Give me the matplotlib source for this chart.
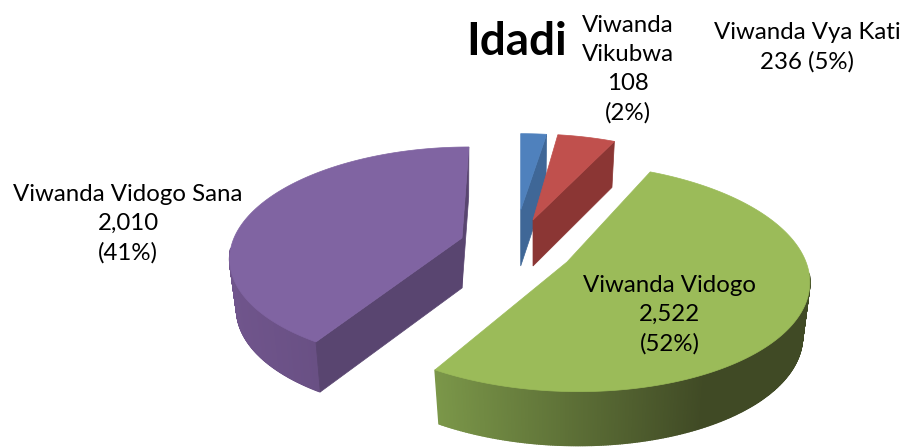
import numpy as np
import matplotlib
matplotlib.use("Agg")
import matplotlib.pyplot as plt
from matplotlib.colors import to_rgb

# data
names = ["Viwanda\nVikubwa", "Viwanda Vya Kati", "Viwanda Vidogo", "Viwanda Vidogo Sana"]
values = [108, 236, 2522, 2010]
percents = [2, 5, 52, 41]

# look of each slice
top_colors = ["#4f81bd", "#c0504d", "#9bbb59", "#8064a2"]
cut_colors = ["#3f6797", "#8b3634", "#7b9749", "#594570"]
wall_left = ["#3f6797", "#8b3634", "#7b9749", "#70558c"]
wall_right = ["#3f6797", "#8b3634", "#404a25", "#624b7c"]

# apex x, apex y, A, D, B, k, depth (exploded slices, picture pixels)
shapes = [
    (520.7, 210, 213, 0, 87, 0.14, 56),
    (533, 220, 218, -2, 98, 0.14, 46),
    (567, 262, 239, -10, 112, 0.136, 54),
    (462, 238, 228, 8, 105.5, 0.159, 50),
]
cuts = [(False, True), (False, True), (False, False), (True, True)]


def project(shape, ang):
    ax0, ay0, A, D, B, k, depth = shape
    u = np.sin(ang)
    v = np.cos(ang)
    w = 1 + k * v
    return (A * u + D * v) / w, -B * v / w


def main():
    fig = plt.figure(figsize=(9.04, 4.47), dpi=100)
    ax = fig.add_axes([0, 0, 1, 1])
    ax.set_xlim(0, 904)
    ax.set_ylim(447, 0)
    ax.axis("off")

    edges = np.cumsum([0] + values) / sum(values) * 2 * np.pi

    for i in range(4):
        s = shapes[i]
        ax0, ay0, depth = s[0], s[1], s[6]
        angs = np.linspace(edges[i], edges[i + 1], 500)
        dx, dy = project(s, angs)
        xt = ax0 + dx
        yt = ay0 + dy
        xb = ax0 + dx * 0.97
        yb = ay0 + dy + depth

        # outer wall, shaded along x, only the side facing us
        c0 = np.array(to_rgb(wall_left[i]))
        c1 = np.array(to_rgb(wall_right[i]))
        xmin, xmax = xt.min(), xt.min() + (xt.max() - xt.min()) * 0.72
        for j in range(len(angs) - 1):
            if np.cos(angs[j]) > -0.1:
                continue
            t = np.clip((xt[j] - xmin) / (xmax - xmin), 0, 1)
            col = c0 + (c1 - c0) * t
            ax.fill([xt[j], xt[j + 1], xb[j + 1], xb[j]],
                    [yt[j], yt[j + 1], yb[j + 1], yb[j]],
                    color=col, lw=1.0, zorder=i * 3 + 1)

        # flat cut faces
        if cuts[i][0]:
            ax.fill([ax0, xt[0], xb[0], ax0], [ay0, yt[0], yb[0], ay0 + depth],
                    color=cut_colors[i], lw=0.5, zorder=i * 3 + 2)
        if cuts[i][1]:
            ax.fill([ax0, xt[-1], xb[-1], ax0], [ay0, yt[-1], yb[-1], ay0 + depth],
                    color=cut_colors[i], lw=0.5, zorder=i * 3 + 2)

        # top of slice
        ax.fill(np.r_[ax0, xt], np.r_[ay0, yt], color=top_colors[i], lw=0.5, zorder=i * 3 + 3)

    font = ["Lato", "DejaVu Sans"]
    ax.text(517, 42, "Idadi", fontsize=33, fontweight="bold", family=font,
            ha="center", va="center", color="black", zorder=20)

    label_pos = [(628, 69), (807.5, 47), (670, 315), (128, 224)]
    for i in range(4):
        txt = f"{names[i]}\n{values[i]:,}\n({percents[i]}%)"
        if i == 1:
            txt = f"{names[i]}\n{values[i]:,} ({percents[i]}%)"
        ax.text(label_pos[i][0], label_pos[i][1], txt, fontsize=17.3, family=font,
                ha="center", va="center", linespacing=1.47, color="black", zorder=20)

    fig.savefig("out.png", dpi=100)


if __name__ == "__main__":
    main()
